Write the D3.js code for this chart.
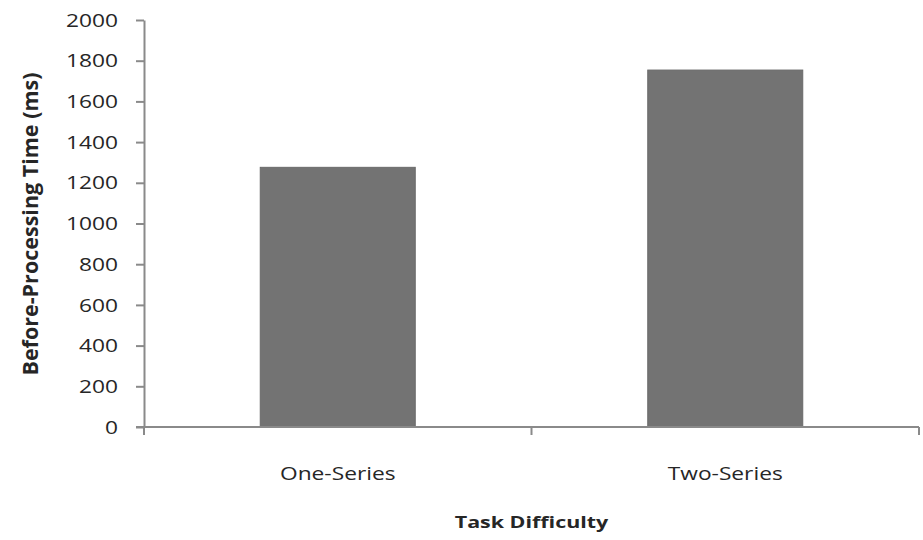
<!DOCTYPE html>
<html><head><meta charset="utf-8">
<script src="https://cdn.jsdelivr.net/npm/d3@7"></script>
<style>
body{margin:0;background:#fff;}
svg text{font-family:"Open Sans",sans-serif;fill:#262626;}
</style></head>
<body><svg id="c" width="923" height="540"></svg>
<script>
const categories = ["One-Series", "Two-Series"];
const values = [1276, 1754];
const yTicks = [0, 200, 400, 600, 800, 1000, 1200, 1400, 1600, 1800, 2000];
const yTitle = "Before-Processing Time (ms)";
const xTitle = "Task Difficulty";

const svg = d3.select("#c");
const m = {left:144, right:919, top:20, bottom:427};
const x = d3.scaleBand().domain(categories).range([m.left, m.right]).paddingInner(0.6).paddingOuter(0.3);
const y = d3.scaleLinear().domain([0, 2000]).range([m.bottom, m.top]);
const axisColor = "#8a8a8a";
const sx = 1.3;

// bars
svg.selectAll("rect.bar").data(values).join("rect")
  .attr("class","bar")
  .attr("x",(d,i)=>x(categories[i]))
  .attr("width",x.bandwidth())
  .attr("y",d=>y(d))
  .attr("height",d=>y(0)-y(d))
  .attr("fill","#737373")
  .attr("stroke","#6a6a6a").attr("stroke-width",1);

// y axis
const ya = svg.append("g").attr("transform",`translate(${m.left},0)`)
  .call(d3.axisLeft(y).tickValues(yTicks).tickSize(8).tickSizeOuter(0).tickFormat(d3.format("d")));
ya.select(".domain").attr("stroke",axisColor).attr("stroke-width",2);
ya.selectAll(".tick line").attr("stroke",axisColor).attr("stroke-width",2);
ya.selectAll(".tick text").remove();
ya.selectAll(".tick").append("text")
  .attr("transform",`translate(-26,0) scale(${sx},1)`)
  .attr("text-anchor","end").attr("dy","0.35em")
  .style("font-size","17.5px").text(d=>d);

// x axis
const xa = svg.append("g").attr("transform",`translate(0,${m.bottom})`);
xa.append("line").attr("x1",m.left-8).attr("x2",m.right).attr("y1",0).attr("y2",0)
  .attr("stroke",axisColor).attr("stroke-width",2);
const bounds = [m.left, (x(categories[0])+x.bandwidth()+x(categories[1]))/2, m.right];
xa.selectAll("line.t").data(bounds).join("line").attr("class","t")
  .attr("x1",d=>d).attr("x2",d=>d).attr("y1",0).attr("y2",8)
  .attr("stroke",axisColor).attr("stroke-width",2);
xa.selectAll("text.c").data(categories).join("text").attr("class","c")
  .attr("transform",d=>`translate(${x(d)+x.bandwidth()/2},53) scale(${sx},1)`)
  .attr("text-anchor","middle").style("font-size","17.5px").text(d=>d);

// titles
svg.append("text")
  .attr("transform",`translate(38,224) rotate(-90)`)
  .attr("text-anchor","middle").style("font-size","21.5px").style("font-weight","bold")
  .text(yTitle);
svg.append("text")
  .attr("transform",`translate(${(m.left+m.right)/2},528) scale(${sx},1)`)
  .attr("text-anchor","middle").style("font-size","16.5px").style("font-weight","bold")
  .text(xTitle);
</script></body></html>
